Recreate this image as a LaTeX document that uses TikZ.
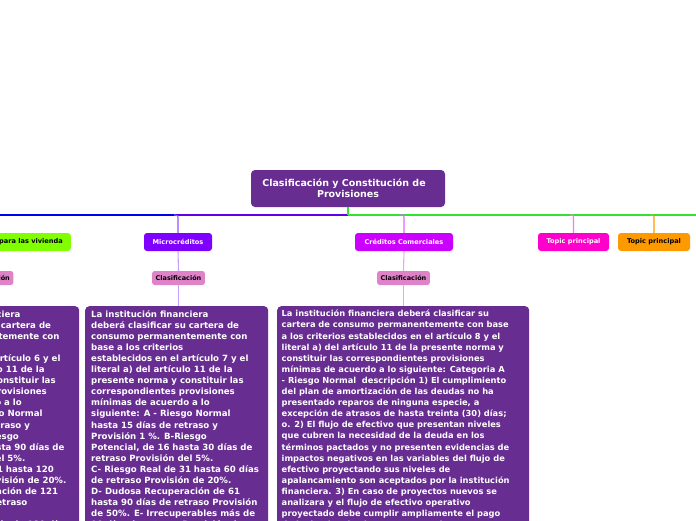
\documentclass[tikz,border=0pt]{standalone}
\usepackage{fontspec}
\setmainfont{DejaVu Sans}
\definecolor{rootpurple}{RGB}{104,45,145}
\definecolor{greenbr}{RGB}{128,255,0}
\definecolor{violetbr}{RGB}{127,0,255}
\definecolor{magbr}{RGB}{204,0,255}
\definecolor{pinkbr}{RGB}{255,0,204}
\definecolor{orangebr}{RGB}{255,153,0}
\definecolor{clasif}{RGB}{224,130,200}
\definecolor{lineblue}{RGB}{0,0,235}
\definecolor{lineviolet}{RGB}{100,0,230}
\definecolor{linegreen}{RGB}{51,225,51}
\definecolor{stubviolet}{RGB}{150,80,255}
\definecolor{stubmag}{RGB}{225,100,255}
\definecolor{stubpink}{RGB}{255,120,220}
\definecolor{subviolet}{RGB}{200,160,255}
\definecolor{submag}{RGB}{240,160,255}
\tikzset{
  rootbox/.style={fill=rootpurple, rounded corners=4pt, text=white, font=\fontsize{9.5}{11.5}\selectfont\bfseries, align=center, minimum width=194pt, minimum height=37pt, inner sep=0pt},
  branch/.style={rounded corners=3pt, font=\fontsize{6.6}{8}\selectfont\bfseries, minimum height=18pt, inner sep=0pt, inner xsep=8pt},
  clas/.style={fill=clasif, rounded corners=2.5pt, font=\fontsize{6.5}{7}\selectfont\bfseries, minimum height=14pt, inner sep=0pt, inner xsep=3.5pt},
  bigbox/.style={fill=rootpurple, rounded corners=4pt, anchor=north west, minimum height=260pt, inner sep=0pt},
  boxtext/.style={text=white, font=\fontsize{8.6}{11.1}\selectfont\bfseries, align=left, anchor=north west, inner sep=0pt},
  boxtextwide/.style={boxtext, font=\fontsize{8.3}{11.1}\selectfont\bfseries},
  conn/.style={line width=1.1pt},
}
\begin{document}
\begin{tikzpicture}[x=1pt,y=-1pt]
\useasboundingbox (0,0) rectangle (696,520);
\clip (0,0) rectangle (696,520);
% root
\node[rootbox] (root) at (348,188.5) {Clasificación y Constitución de\hspace*{8pt}\\Provisiones};
\coordinate (hub) at (348,215);
\coordinate (lend) at (0,215);
\coordinate (rend) at (696,215);
% branch nodes
\node[branch, fill=greenbr, anchor=east] (viv) at (71,242) {Créditos para las vivienda};
\node[branch, fill=violetbr, text=white, minimum width=68pt] (micro) at (178,242) {Microcréditos};
\node[branch, fill=magbr, text=white, minimum width=98pt] (comer) at (404,242) {Créditos Comerciales};
\node[branch, fill=pinkbr, text=white, minimum width=71pt] (tp1) at (573.5,242) {Topic principal};
\node[branch, fill=orangebr, minimum width=72pt] (tp2) at (654,242) {Topic principal};
% main lines
\draw[conn, lineblue] (hub) -- (lend);
\draw[conn, lineviolet] (hub) -- (178,215);
\draw[conn, linegreen] (hub) -- (rend);
\draw[conn, linegreen] (root.south) -- (hub);
\draw[conn, stubviolet, rounded corners=2pt] (174,215) -| (micro.north);
\draw[conn, stubmag, rounded corners=2pt] (400,215) -| (comer.north);
\draw[conn, stubpink, rounded corners=2pt] (570,215) -| (tp1.north);
\draw[conn, orangebr, rounded corners=2pt] (651,215) -| (tp2.north);
% Clasificación nodes
\node[clas] (lcl) at (-13,278) {Clasificación};
\node[clas] (mcl) at (178.5,278) {Clasificación};
\node[clas] (rcl) at (403.5,278) {Clasificación};
% big boxes
\node[bigbox, minimum width=182pt] (lbox) at (-103,306) {};
\node[bigbox, minimum width=183pt] (mbox) at (85,306) {};
\node[bigbox, minimum width=252pt] (rbox) at (277,306) {};
\draw[conn, subviolet] (micro.south) -- (mcl.north);
\draw[conn, subviolet] (mcl.south) -- (mcl.south |- mbox.north);
\draw[conn, submag] (comer.south) -- (rcl.north);
\draw[conn, submag] (rcl.south) -- (rcl.south |- rbox.north);
\draw[conn, subviolet] (viv.south -| lcl) -- (lcl.north);
\draw[conn, subviolet] (lcl.south) -- (lcl.south |- lbox.north);
% texts
\node[boxtext] (ltext) at ([shift={(6,4)}]lbox.north west) {La institución financiera\\deberá clasificar su cartera de\\consumo permanentemente con\\base a los criterios\\establecidos en el artículo 6 y el\\literal a) del artículo 11 de la\\presente norma y constituir las\\correspondientes provisiones\\mínimas de acuerdo a lo\\siguiente: A - Riesgo Normal\\hasta 30 días de retraso y\\Provisión 1 \%. B-Riesgo\\Potencial, de 31 hasta 90 días de\\retraso Provisión del 5\%.\\C- Riesgo Real de 91 hasta 120\\días de retraso Provisión de 20\%.\\D- Dudosa Recuperación de 121\\hasta 180 días de retraso\\Provisión.\\E- Irrecuperables más de 180 días};
\node[boxtext] (mtext) at ([shift={(6,4)}]mbox.north west) {La institución financiera\\deberá clasificar su cartera de\\consumo permanentemente con\\base a los criterios\\establecidos en el artículo 7 y el\\literal a) del artículo 11 de la\\presente norma y constituir las\\correspondientes provisiones\\mínimas de acuerdo a lo\\siguiente: A - Riesgo Normal\\hasta 15 días de retraso y\\Provisión 1 \%. B-Riesgo\\Potencial, de 16 hasta 30 días de\\retraso Provisión del 5\%.\\C- Riesgo Real de 31 hasta 60 días\\de retraso Provisión de 20\%.\\D- Dudosa Recuperación de 61\\hasta 90 días de retraso Provisión\\de 50\%. E- Irrecuperables más de\\90 días de retraso Provisión de};
\node[boxtextwide] (rtext) at ([shift={(4.5,4)}]rbox.north west) {La institución financiera deberá clasificar su\\cartera de consumo permanentemente con base\\a los criterios establecidos en el artículo 8 y el\\literal a) del artículo 11 de la presente norma y\\constituir las correspondientes provisiones\\mínimas de acuerdo a lo siguiente: Categoria A\\- Riesgo Normal\ \ descripción 1) El cumplimiento\\del plan de amortización de las deudas no ha\\presentado reparos de ninguna especie, a\\excepción de atrasos de hasta treinta (30) días;\\o. 2) El flujo de efectivo que presentan niveles\\que cubren la necesidad de la deuda en los\\términos pactados y no presenten evidencias de\\impactos negativos en las variables del flujo de\\efectivo proyectando sus niveles de\\apalancamiento son aceptados por la institución\\financiera. 3) En caso de proyectos nuevos se\\analizara y el flujo de efectivo operativo\\proyectado debe cumplir ampliamente el pago\\de la deuda y los intereses pactados};
\end{tikzpicture}
\end{document}
